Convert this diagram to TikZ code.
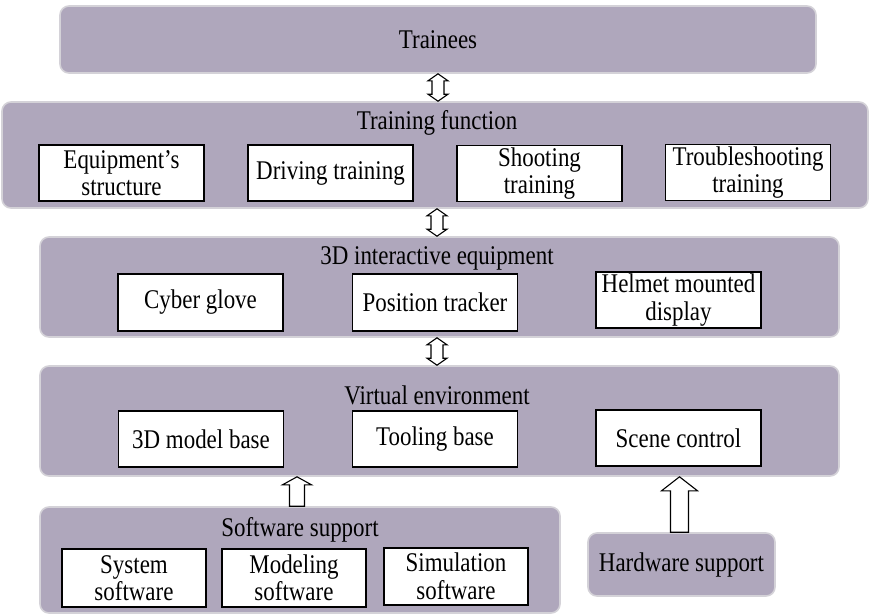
\documentclass[tikz,border=0pt]{standalone}
\usepackage{fontspec}
\setmainfont{Liberation Serif}[FakeStretch=0.85]
\usetikzlibrary{calc}
\definecolor{panelfill}{RGB}{175,167,188}
\definecolor{panelrim}{RGB}{212,210,216}
\newcommand\labelfont{\fontsize{27}{27.5}\selectfont}

\begin{document}
\begin{tikzpicture}[x=1pt,y=-1pt,
  panel/.style={draw=panelrim, line width=1.6pt, fill=panelfill, rounded corners=9pt,
    inner sep=0pt, font=\labelfont},
  item/.style={draw=black, line width=1.1pt, fill=white, inner sep=0pt, align=center,
    font=\labelfont, minimum width=165pt, minimum height=56pt},
  heading/.style={font=\labelfont, inner sep=0pt},
  % hollow two-headed block arrow, drawn from the upper node down to the lower one
  dblarr/.style={draw=black, line width=1.1pt, fill=white, line join=miter,
    to path={let \p1=(\tikztostart), \p2=(\tikztotarget) in
      (\x1,\y1) -- (\x1+10pt,\y1-7pt) -- (\x1+6pt,\y1-7pt) -- (\x1+6pt,\y2+7pt)
      -- (\x1+10pt,\y2+7pt) -- (\x1,\y2) -- (\x1-10pt,\y2+7pt) -- (\x1-6pt,\y2+7pt)
      -- (\x1-6pt,\y1-7pt) -- (\x1-10pt,\y1-7pt) -- cycle}},
  % hollow block arrow pointing up: #1 head half-width, #2 shaft half-width, #3 head length
  uparr/.style n args={3}{draw=black, line width=1.1pt, fill=white, line join=miter,
    to path={let \p1=(\tikztostart), \p2=(\tikztotarget) in
      (\x1-#2,\y1) -- (\x1-#2,\y2-#3) -- (\x1-#1,\y2-#3) -- (\x1,\y2)
      -- (\x1+#1,\y2-#3) -- (\x1+#2,\y2-#3) -- (\x1+#2,\y1) -- cycle}}
]
\useasboundingbox (0,0) rectangle (870,614);

% layer 1
\node[panel, minimum width=756pt, minimum height=67pt] (trainees) at (438,39.5) {Trainees};

% layer 2
\node[panel, minimum width=866pt, minimum height=106pt] (func) at (435,155) {};
\node[heading] (funct) at (437,123) {Training function};
\node[item] (equip) at (121.5,173) {Equipment's\\structure};
\node[item] (drive) at (330.5,173) {Driving training};
\node[item] (shoot) at (539.5,173.5) {Shooting\\training};
\node[item] (trouble) at (748,172.5) {Troubleshooting\\training};

% layer 3
\node[panel, minimum width=799pt, minimum height=100pt] (inter) at (439.5,287) {};
\node[heading] (intert) at (437,258) {3D interactive equipment};
\node[item, minimum height=57pt] (glove) at (200.5,302.5) {Cyber glove};
\node[item, minimum height=57pt] (tracker) at (435,302.5) {Position tracker};
\node[item] (helmet) at (678.5,300) {Helmet mounted\\display};

% layer 4
\node[panel, minimum width=799pt, minimum height=110pt] (venv) at (439.5,421) {};
\node[heading] (venvt) at (437,395) {Virtual environment};
\node[item] (model) at (201,439) {3D model base};
\node[item] (tool) at (435,439) {Tooling base};
\node[item] (scene) at (678.5,438) {Scene control};

% layer 5
\node[panel, minimum width=520pt, minimum height=106pt] (soft) at (300,560) {};
\node[heading] (softt) at (300,530) {Software support};
\node[item, minimum width=144pt, minimum height=58pt] (sys) at (134,578) {System\\software};
\node[item, minimum width=144pt, minimum height=58pt] (modsw) at (294,578) {Modeling\\software};
\node[item, minimum width=144pt, minimum height=57pt] (sim) at (456,576.5) {Simulation\\software};

\node[panel, minimum width=187pt, minimum height=63pt] (hard) at (681.5,564.5) {Hardware support};

% connectors
\draw[dblarr] (trainees.south) to (func.north);
\draw[dblarr] ($(func.south)+(2,0)$) to (inter.north);
\draw[dblarr] ($(inter.south)+(-2.5,0)$) to (venv.north);
\draw[uparr={14.5pt}{7.5pt}{8pt}] ($(soft.north)+(-3,0)$) to (venv.south);
\draw[uparr={18pt}{9pt}{14pt}] ($(hard.north)+(-2,0)$) to (venv.south);
\end{tikzpicture}
\end{document}
